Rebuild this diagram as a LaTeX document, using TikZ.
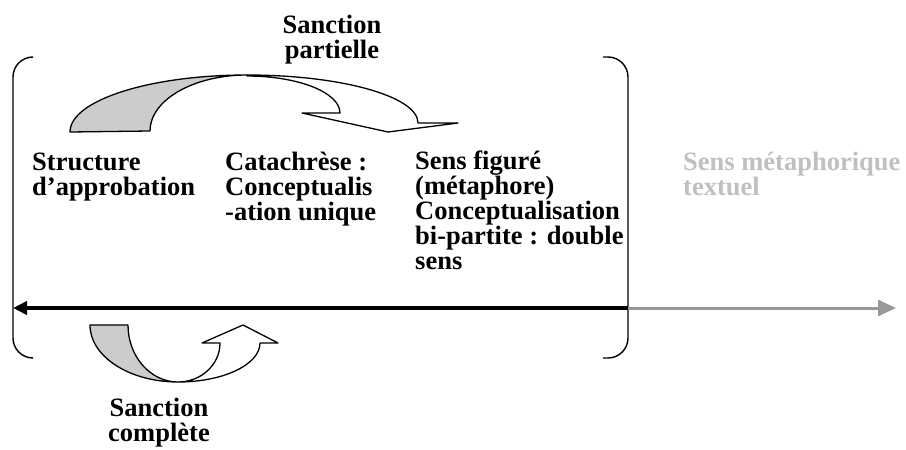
\documentclass[tikz,border=0pt]{standalone}
\usepackage{fontspec}
\setmainfont{Liberation Serif}
\usetikzlibrary{arrows.meta}
\definecolor{tailgray}{HTML}{CCCCCC}
\definecolor{axisgray}{HTML}{999999}
\definecolor{textgray}{HTML}{C0C0C0}

\tikzset{
  lbl/.style={font=\fontsize{26.5}{24.8}\selectfont\bfseries, align=left, inner sep=0pt, anchor=base west},
  ctr/.style={lbl, align=center, anchor=base},
  brk/.style={line width=1.4pt, rounded corners=20pt},
  bandarrow/.style={line width=1.3pt, line join=round},
}

\begin{document}
\begin{tikzpicture}[x=1pt,y=-1pt]
  \useasboundingbox[fill=white] (0,0) rectangle (906,450);
  % brackets
  \draw[brk] (33,57) -- (13,57) -- (13,358) -- (33,358);
  \draw[brk] (603,57) -- (628,57) -- (628,358) -- (603,358);
  % axis
  \coordinate (lft) at (13,308);
  \coordinate (mid) at (628,308);
  \coordinate (rgt) at (896,308);
  \draw[line width=4pt, -{Triangle[length=14pt,width=13pt]}] (mid) -- (lft);
  \draw[line width=3pt, axisgray, -{Triangle[length=18pt,width=16pt]}] (mid) -- (rgt);
  % upper curved arrow
  \filldraw[bandarrow, fill=tailgray] (70,132)
    arc[start angle=180, end angle=270, x radius=177, y radius=57]
    arc[start angle=270, end angle=180, x radius=97, y radius=56] -- cycle;
  \filldraw[bandarrow, fill=white] (247,75)
    arc[start angle=270, end angle=360, x radius=171, y radius=48]
    -- (458,123) -- (388,132) -- (302,113) -- (340,113)
    arc[start angle=0, end angle=-90, x radius=93, y radius=37] -- cycle;
  % lower curved arrow
  \filldraw[bandarrow, fill=tailgray] (90,325)
    arc[start angle=180, end angle=90, x radius=88, y radius=57]
    arc[start angle=90, end angle=180, x radius=50, y radius=57] -- cycle;
  \filldraw[bandarrow, fill=white] (178,382)
    arc[start angle=90, end angle=0, x radius=82, y radius=39]
    -- (278,343) -- (243,325) -- (202,343) -- (220,343)
    arc[start angle=0, end angle=90, x radius=42, y radius=39] -- cycle;
  % labels (base = last line)
  \node[lbl] (struct) at (32,195) {Structure\\d’approbation};
  \node[lbl] (catach) at (225,220) {Catachrèse :\\Conceptualis\\-ation unique};
  \node[lbl] (figure) at (415,269) {Sens figuré\\(métaphore)\\Conceptualisation\\bi-partite : double\\sens};
  \node[lbl, text=textgray] (textuel) at (683,195) {Sens métaphorique\\textuel};
  \node[ctr] (partielle) at (332,58) {Sanction\\partielle};
  \node[ctr] (complete) at (159,441) {Sanction\\complète};
\end{tikzpicture}
\end{document}
